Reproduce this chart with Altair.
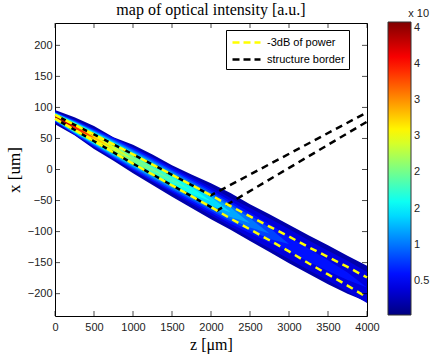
import math
import altair as alt
import pandas as pd

# ---------------- data ----------------
Z_UM = [0, 250, 500, 750, 1000, 1250, 1500, 1750, 2000, 2250, 2500, 2750, 3000, 3250, 3500, 3750, 4000]
BEAM_CENTER = [85, 68, 51, 34, 17, 0, -17, -34, -51, -69, -86, -103, -120, -138, -155, -172, -190]
HALF_3DB = [3, 4, 5.5, 6.5, 7.5, 8, 8.5, 9, 9.5, 10, 10.5, 11, 12, 13, 14, 15, 16]
CORE_HALF = [4.5, 7, 9, 11, 12.5, 13.5, 14, 14.5, 15, 15.5, 16, 17, 18, 19, 20, 21, 22]
PEAK = [4.05, 3.5, 2.8, 2.4, 2.1, 1.95, 1.8, 1.65, 1.5, 1.3, 1.05, 0.85, 0.7, 0.62, 0.57, 0.53, 0.5]
ENV_UPPER = [96, 84, 70, 52, 40, 24, 7, -8, -22, -38, -56, -72, -89, -106, -122, -139, -155]
ENV_LOWER = [73, 55, 33, 14, -6, -25, -44, -62, -80, -97, -115, -133, -151, -168, -185, -200, -213]
SKIRT_HALF = [8, 12, 15, 17, 19, 20, 21, 22, 23, 23, 24, 24, 24, 24, 24, 25, 25]
LEVELS = [0.5, 0.7, 0.9, 1.1, 1.3, 1.5, 1.7, 1.9, 2.1, 2.3, 2.5, 2.7, 2.9, 3.1, 3.3, 3.5, 3.7, 3.9]
BAND_STEP = 0.2
ENVELOPE_VALUE = 0.2
SKIRT_VALUE = 0.4

BORDER_UP_Z = [0, 250, 500, 750, 1000, 1250, 1500, 1750, 2000, 4000]
BORDER_UP_X = [88, 72, 56.5, 40.5, 24.5, 8, -8.5, -25, -41.5, 92]
BORDER_LO_Z = [0, 250, 500, 750, 1000, 1250, 1500, 1750, 2000, 2080, 4000]
BORDER_LO_X = [82, 64, 45.5, 27.5, 9.5, -8, -25.5, -43, -60.5, -66, 77]

X_TICKS = [0, 500, 1000, 1500, 2000, 2500, 3000, 3500, 4000]
Y_TICKS = [-200, -150, -100, -50, 0, 50, 100, 150, 200]
CBAR_TICKS = [0.5, 1, 1.5, 2, 2.5, 3, 3.5, 4]
CBAR_MIN, CBAR_MAX = 0.03, 4.08
JET = ["#000080", "#0000ff", "#00ffff", "#ffff00", "#ff0000", "#800000"]
JET_POS = [0, 0.125, 0.375, 0.625, 0.875, 1.0]

LINE_NAMES = ["-3dB of power", "structure border"]
LINE_COLORS = ["#ffff00", "#000000"]

PLOT_W, PLOT_H = 312, 293

# ---------------- tables ----------------
band_rows = []
band_id = 0
for z, lo, hi in zip(Z_UM, ENV_LOWER, ENV_UPPER):
    band_rows.append({"band": band_id, "value": ENVELOPE_VALUE, "z": z, "lo": lo, "hi": hi})
band_id += 1
for z, c, s in zip(Z_UM, BEAM_CENTER, SKIRT_HALF):
    band_rows.append({"band": band_id, "value": SKIRT_VALUE, "z": z, "lo": c - s, "hi": c + s})
band_id += 1
for L in LEVELS:
    for z, c, h, p, s in zip(Z_UM, BEAM_CENTER, CORE_HALF, PEAK, SKIRT_HALF):
        if p > L:
            hw = min(h * math.sqrt(math.log(p / L) / math.log(2)), s)
            band_rows.append({"band": band_id, "value": L + BAND_STEP / 2, "z": z, "lo": c - hw, "hi": c + hw})
        else:
            band_rows.append({"band": band_id, "value": L + BAND_STEP / 2, "z": z, "lo": c, "hi": c})
            break
    band_id += 1
bands = pd.DataFrame(band_rows)

line_rows = []
for z, c, h in zip(Z_UM, BEAM_CENTER, HALF_3DB):
    line_rows.append({"series": LINE_NAMES[0], "side": "up", "z": z, "x": c + h})
    line_rows.append({"series": LINE_NAMES[0], "side": "lo", "z": z, "x": c - h})
for z, x in zip(BORDER_UP_Z, BORDER_UP_X):
    line_rows.append({"series": LINE_NAMES[1], "side": "up", "z": z, "x": x})
for z, x in zip(BORDER_LO_Z, BORDER_LO_X):
    line_rows.append({"series": LINE_NAMES[1], "side": "lo", "z": z, "x": x})
lines = pd.DataFrame(line_rows)

# ---------------- scales / axes ----------------
X_SCALE = alt.Scale(domain=[0, 4000], nice=False, zero=False)
Y_SCALE = alt.Scale(domain=[-236, 236], nice=False, zero=False)
X_AXIS = alt.Axis(values=X_TICKS, format="d", title="z [μm]", titleFont="Liberation Serif", titleFontSize=16,
                  titleFontWeight="normal", titleColor="black", labelFontSize=11, labelColor="#222",
                  ticks=False, tickSize=0, domain=False, grid=False, labelPadding=5, titlePadding=4,
                  labelFlush=False)
Y_AXIS = alt.Axis(values=Y_TICKS, format="d", title="x [um]", titleFont="Liberation Serif", titleFontSize=17,
                  titleFontWeight="normal", titleColor="black", labelFontSize=11, labelColor="#222",
                  ticks=False, tickSize=0, domain=False, grid=False, labelPadding=3, titlePadding=4,
                  labelFlush=False)

span = CBAR_MAX - CBAR_MIN
COLOR_SCALE = alt.Scale(domain=[CBAR_MIN + p * span for p in JET_POS], range=JET, interpolate="rgb")
COLOR_LEGEND = alt.Legend(title="x 10", orient="none", legendX=333, legendY=-15, direction="vertical",
                          gradientLength=PLOT_H, gradientThickness=23, values=CBAR_TICKS, format="~g",
                          labelFontSize=11, labelColor="#222", labelOffset=3, titleFontSize=11,
                          titleFontWeight="normal", titleColor="#222", titleAnchor="end", titlePadding=3,
                          gradientStrokeColor="#333", gradientStrokeWidth=1, labelOverlap=False)
LINE_LEGEND = alt.Legend(title=None, orient="none", legendX=171, legendY=7, fillColor="white",
                         strokeColor="black", padding=4, labelFontSize=11, labelColor="black",
                         symbolType="M-2,0L2,0", symbolStrokeWidth=2.5, symbolDash=[7, 4], symbolSize=196,
                         symbolOffset=8, rowPadding=3, labelOffset=12)
STROKE_SCALE = alt.Scale(domain=LINE_NAMES, range=LINE_COLORS)

layers = []
for b in range(band_id):
    layers.append(
        alt.Chart(bands).transform_filter(alt.datum.band == b).mark_area(opacity=1).encode(
            x=alt.X("z:Q", scale=X_SCALE, axis=X_AXIS),
            y=alt.Y("hi:Q", scale=Y_SCALE, axis=Y_AXIS),
            y2="lo:Q",
            color=alt.Color("value:Q", scale=COLOR_SCALE, legend=COLOR_LEGEND),
        )
    )

for name, offset in [(LINE_NAMES[1], 7), (LINE_NAMES[0], 0)]:
    layers.append(
        alt.Chart(lines).transform_filter(alt.datum.series == name)
        .mark_line(strokeWidth=2.5, strokeDash=[7, 5], strokeDashOffset=offset)
        .encode(
            x=alt.X("z:Q", scale=X_SCALE, axis=X_AXIS),
            y=alt.Y("x:Q", scale=Y_SCALE, axis=Y_AXIS),
            stroke=alt.Stroke("series:N", scale=STROKE_SCALE, legend=LINE_LEGEND),
            detail="side:N",
            order="z:Q",
        )
    )

xt = pd.DataFrame({"t": X_TICKS})
yt = pd.DataFrame({"t": Y_TICKS})
for ypix in [PLOT_H - 2.5, 2.5]:
    layers.append(alt.Chart(xt).mark_tick(color="black", thickness=1, size=5).encode(
        x=alt.X("t:Q", scale=X_SCALE, axis=X_AXIS), y=alt.value(ypix)))
for xpix in [2.5, PLOT_W - 2.5]:
    layers.append(alt.Chart(yt).mark_tick(color="black", thickness=1, size=5).encode(
        y=alt.Y("t:Q", scale=Y_SCALE, axis=Y_AXIS), x=alt.value(xpix)))

chart = alt.layer(*layers).properties(
    width=PLOT_W, height=PLOT_H,
    title=alt.TitleParams("map of optical intensity [a.u.]", font="Liberation Serif", fontSize=16,
                          fontWeight="normal", color="black", anchor="middle", offset=5, dy=15),
    autosize=alt.AutoSizeParams(type="none"),
    padding={"left": 55, "top": 23, "right": 68, "bottom": 42},
).configure(font="Liberation Sans", background="white").configure_view(stroke="black", strokeWidth=1)

chart.save("out.html", embed_options={"renderer": "svg", "actions": False})
